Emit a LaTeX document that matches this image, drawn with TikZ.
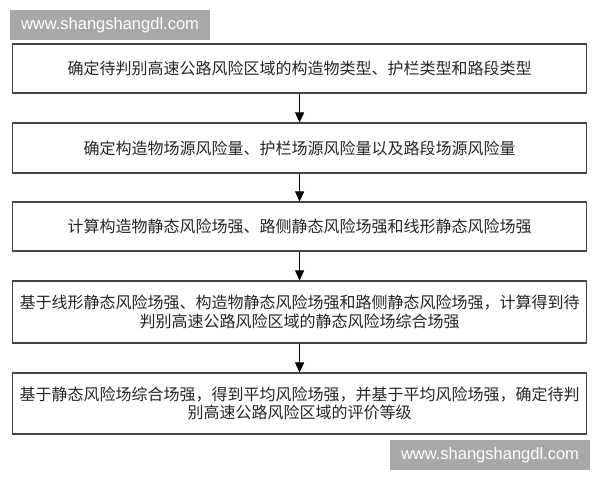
\documentclass[tikz,border=0pt]{standalone}
\usepackage{fontspec}
\newfontfamily\cjk{Noto Sans CJK SC}
\newfontfamily\wmfont{Liberation Sans}
\usetikzlibrary{arrows.meta}
\definecolor{boxline}{HTML}{454545}
\definecolor{txt}{HTML}{262626}
\definecolor{wmgray}{HTML}{A8A8A8}
\tikzset{
  stepbox/.style={draw=boxline, line width=1.1pt, fill=white, minimum width=574pt,
    align=center, inner sep=0pt, text=txt,
    font=\cjk\fontsize{16pt}{18.5pt}\selectfont},
  flowarrow/.style={draw=black, line width=1pt, -{Triangle[width=9pt,length=10pt]}},
  wmbox/.style={fill=wmgray, text=white, inner sep=0pt, minimum width=200pt, minimum height=30pt,
    font=\wmfont\fontsize{16.5pt}{18pt}\selectfont}
}
\begin{document}
\begin{tikzpicture}[x=1pt,y=-1pt]
\useasboundingbox[fill=white] (0,0) rectangle (600,480);
\node[wmbox] (wm1) at (110,25) {www.shangshangdl.com};
\node[wmbox] (wm2) at (490,455) {www.shangshangdl.com};
\node[stepbox, minimum height=49pt] (s1) at (299.6,68.5) {确定待判别高速公路风险区域的构造物类型、护栏类型和路段类型};
\node[stepbox, minimum height=50pt] (s2) at (299.6,148) {确定构造物场源风险量、护栏场源风险量以及路段场源风险量};
\node[stepbox, minimum height=49pt] (s3) at (299.6,226.5) {计算构造物静态风险场强、路侧静态风险场强和线形静态风险场强};
\node[stepbox, minimum height=62pt] (s4) at (299.6,312) {基于线形静态风险场强、构造物静态风险场强和路侧静态风险场强，计算得到待\\判别高速公路风险区域的静态风险场综合场强};
\node[stepbox, minimum height=61pt] (s5) at (299.6,403.5) {基于静态风险场综合场强，得到平均风险场强，并基于平均风险场强，确定待判\\别高速公路风险区域的评价等级};
\draw[flowarrow] (s1.south) -- (s2.north);
\draw[flowarrow] (s2.south) -- (s3.north);
\draw[flowarrow] (s3.south) -- (s4.north);
\draw[flowarrow] (s4.south) -- (s5.north);
\end{tikzpicture}
\end{document}
